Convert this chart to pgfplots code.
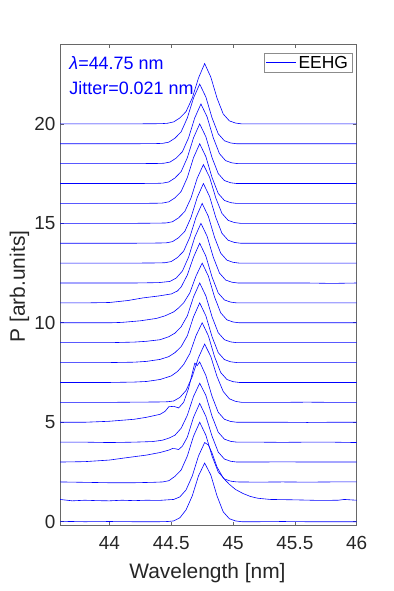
\documentclass[border=0pt]{standalone}
\usepackage{fontspec}
\setmainfont{Liberation Sans}
\usepackage{pgfplots}
\pgfplotsset{compat=1.18}
\definecolor{axgray}{rgb}{0.15,0.15,0.15}
\definecolor{lineblue}{rgb}{0,0,1}
\begin{document}
\begin{tikzpicture}
\useasboundingbox (-60bp,-65.3bp) rectangle (334bp,525.7bp);
\begin{axis}[
  at={(0,0)}, anchor=south west,
  scale only axis, width=296.7bp, height=481.4bp,
  xmin=43.6, xmax=46, ymin=-0.2, ymax=24,
  xtick={44,44.5,45,45.5,46}, ytick={0,5,10,15,20},
  tick align=inside, major tick length=4bp,
  axis line style={draw=axgray!70, line width=0.6bp},
  tick style={draw=axgray!70, line width=0.6bp},
  ticklabel style={font=\fontsize{19}{22}\selectfont, text=axgray},
  /pgf/number format/assume math mode=true,
  xticklabel style={yshift=-7bp},
  yticklabel style={xshift=-1bp},
  xlabel={Wavelength [nm]}, ylabel={P [arb.units]},
  label style={font=\fontsize{21}{24}\selectfont, text=axgray},
  xlabel style={at={(axis description cs:0.497,-0.1093)}, anchor=base},
  ylabel style={at={(axis description cs:-0.118,0.497)}, anchor=base},
  legend style={at={(axis description cs:0.985,0.9826)}, anchor=north east,
    draw=black!45, line width=0.5bp, font=\fontsize{17.5}{20}\selectfont,
    inner xsep=2bp, inner ysep=1bp, legend cell align=left},
  legend image code/.code={\draw[#1] (0bp,0bp) -- (30bp,0bp);},
  cycle list={{lineblue, solid, mark=none, line width=0.6bp}},
  every axis plot post/.append style={color=lineblue, solid, mark=none, line width=0.6bp},
]
% trace 0
\addplot coordinates {(43.6,0.02)(43.8,0.0)(44.0,0.01)(44.2,0.0)(44.4,0.0)(44.47,0.01)(44.52,0.04)(44.57,0.2)(44.62,0.6)(44.67,1.3)(44.72,2.3)(44.77,2.95)(44.82,2.35)(44.87,1.3)(44.92,0.5)(44.97,0.15)(45.02,0.04)(45.07,0.0)(45.2,0.0)(45.4,0.01)(45.6,0.0)(45.8,0.0)(46.0,0.0)};
\addlegendentry{EEHG}
% trace 1
\addplot coordinates {(43.6,1.12)(43.7,1.05)(43.8,1.08)(43.9,1.06)(44.0,1.05)(44.1,1.08)(44.2,1.06)(44.3,1.08)(44.4,1.07)(44.47,1.1)(44.52,1.12)(44.57,1.25)(44.62,1.6)(44.67,2.3)(44.72,3.3)(44.77,3.98)(44.8,3.86)(44.83,3.45)(44.87,2.75)(44.92,2.2)(44.97,1.88)(45.02,1.62)(45.08,1.42)(45.14,1.27)(45.2,1.18)(45.3,1.12)(45.5,1.1)(45.7,1.07)(45.85,1.08)(45.9,1.12)(46.0,1.08)};
% trace 2
\addplot coordinates {(43.6,2.0)(43.8,1.98)(44.0,1.96)(44.2,1.96)(44.35,1.98)(44.43,2.0)(44.48,2.06)(44.53,2.28)(44.58,2.6)(44.63,3.3)(44.68,4.3)(44.73,5.0)(44.78,4.35)(44.83,3.3)(44.88,2.5)(44.93,2.15)(44.98,2.04)(45.03,2.0)(45.2,1.99)(45.4,2.0)(45.6,1.99)(45.8,2.0)(46.0,2.0)};
% trace 3
\addplot coordinates {(43.6,3.0)(43.8,3.02)(44.0,3.1)(44.14,3.22)(44.3,3.35)(44.41,3.48)(44.48,3.6)(44.51,3.68)(44.53,3.67)(44.56,3.63)(44.59,3.8)(44.63,4.25)(44.68,5.25)(44.73,5.95)(44.78,5.3)(44.83,4.3)(44.88,3.5)(44.93,3.15)(44.98,3.04)(45.03,3.0)(45.2,3.0)(45.4,3.01)(45.6,3.0)(45.8,3.0)(46.0,3.0)};
% trace 4
\addplot coordinates {(43.6,4.0)(43.8,4.0)(44.0,3.98)(44.2,4.0)(44.35,4.03)(44.43,4.1)(44.48,4.2)(44.53,4.35)(44.58,4.7)(44.63,5.35)(44.68,6.3)(44.73,6.96)(44.78,6.35)(44.83,5.3)(44.88,4.5)(44.93,4.15)(44.98,4.04)(45.03,4.0)(45.2,4.0)(45.4,3.99)(45.6,4.0)(45.8,4.0)(46.0,3.98)};
% trace 5
\addplot coordinates {(43.6,5.0)(43.8,5.0)(44.0,5.05)(44.2,5.15)(44.3,5.25)(44.41,5.4)(44.45,5.55)(44.48,5.78)(44.52,5.8)(44.56,5.72)(44.6,6.0)(44.64,6.7)(44.69,7.97)(44.71,7.85)(44.73,8.03)(44.78,7.35)(44.83,6.3)(44.88,5.5)(44.93,5.15)(44.98,5.04)(45.03,5.0)(45.2,5.0)(45.4,5.0)(45.6,4.99)(45.8,5.0)(46.0,5.0)};
% trace 6
\addplot coordinates {(43.6,6.0)(43.8,6.0)(44.0,6.0)(44.2,6.01)(44.4,6.02)(44.47,6.03)(44.52,6.07)(44.57,6.25)(44.62,6.6)(44.67,7.3)(44.72,8.25)(44.77,8.93)(44.82,8.3)(44.87,7.3)(44.92,6.55)(44.97,6.18)(45.02,6.05)(45.07,6.0)(45.2,6.0)(45.4,6.0)(45.6,6.01)(45.8,6.0)(46.0,6.0)};
% trace 7
\addplot coordinates {(43.6,7.0)(43.8,7.0)(44.0,7.0)(44.2,7.02)(44.3,7.05)(44.41,7.15)(44.5,7.33)(44.55,7.55)(44.6,7.9)(44.65,8.45)(44.7,9.35)(44.75,10.0)(44.8,9.35)(44.85,8.3)(44.9,7.5)(44.95,7.15)(45.0,7.04)(45.05,7.0)(45.2,7.0)(45.4,7.0)(45.6,7.0)(45.8,7.0)(46.0,7.0)};
% trace 8
\addplot coordinates {(43.6,8.0)(43.8,8.0)(44.0,8.0)(44.2,8.02)(44.3,8.06)(44.41,8.16)(44.48,8.3)(44.53,8.5)(44.58,8.8)(44.63,9.35)(44.68,10.3)(44.73,11.0)(44.78,10.35)(44.83,9.3)(44.88,8.5)(44.93,8.15)(44.98,8.04)(45.03,8.0)(45.2,8.0)(45.4,8.0)(45.6,8.0)(45.8,8.0)(46.0,8.0)};
% trace 9
\addplot coordinates {(43.6,9.0)(43.8,9.0)(44.0,9.0)(44.2,9.03)(44.3,9.07)(44.41,9.15)(44.48,9.3)(44.53,9.48)(44.58,9.8)(44.63,10.35)(44.68,11.3)(44.73,12.0)(44.78,11.35)(44.83,10.3)(44.88,9.5)(44.93,9.15)(44.98,9.04)(45.03,9.0)(45.2,9.0)(45.4,9.0)(45.6,9.0)(45.8,9.0)(46.0,9.0)};
% trace 10
\addplot coordinates {(43.6,10.0)(43.8,10.0)(44.0,10.0)(44.1,10.02)(44.25,10.1)(44.38,10.22)(44.45,10.35)(44.52,10.55)(44.56,10.75)(44.6,11.0)(44.65,11.5)(44.7,12.35)(44.75,13.0)(44.8,12.35)(44.85,11.3)(44.9,10.5)(44.95,10.15)(45.0,10.04)(45.05,10.0)(45.2,10.0)(45.4,10.0)(45.6,10.0)(45.8,10.0)(46.0,10.0)};
% trace 11
\addplot coordinates {(43.6,11.0)(43.8,11.0)(44.0,11.02)(44.15,11.12)(44.27,11.25)(44.4,11.35)(44.5,11.45)(44.55,11.6)(44.58,11.8)(44.63,12.4)(44.68,13.3)(44.73,14.0)(44.78,13.35)(44.83,12.3)(44.88,11.5)(44.93,11.15)(44.98,11.04)(45.03,11.0)(45.2,11.0)(45.4,11.0)(45.6,11.0)(45.8,11.0)(46.0,11.0)};
% trace 12
\addplot coordinates {(43.6,12.0)(43.8,12.0)(44.0,12.0)(44.2,12.0)(44.4,12.02)(44.49,12.08)(44.54,12.25)(44.59,12.6)(44.64,13.3)(44.69,14.3)(44.74,15.0)(44.79,14.35)(44.84,13.3)(44.89,12.5)(44.94,12.15)(44.99,12.04)(45.04,12.0)(45.2,12.0)(45.4,12.0)(45.6,12.0)(45.8,11.98)(46.0,12.0)};
% trace 13
\addplot coordinates {(43.6,13.0)(43.8,13.0)(44.0,13.0)(44.2,13.0)(44.4,13.01)(44.45,13.02)(44.5,13.08)(44.55,13.28)(44.6,13.6)(44.65,14.3)(44.7,15.3)(44.75,16.0)(44.8,15.35)(44.85,14.3)(44.9,13.5)(44.95,13.15)(45.0,13.04)(45.05,13.0)(45.2,13.0)(45.4,13.0)(45.6,13.0)(45.8,13.0)(46.0,13.0)};
% trace 14
\addplot coordinates {(43.6,14.0)(43.8,14.0)(44.0,14.0)(44.2,14.0)(44.4,14.01)(44.46,14.02)(44.51,14.08)(44.56,14.28)(44.61,14.6)(44.66,15.3)(44.71,16.3)(44.76,17.0)(44.81,16.35)(44.86,15.3)(44.91,14.5)(44.96,14.15)(45.01,14.04)(45.06,14.0)(45.2,14.0)(45.4,14.0)(45.6,14.0)(45.8,14.0)(46.0,14.0)};
% trace 15
\addplot coordinates {(43.6,15.0)(43.8,15.0)(44.0,15.0)(44.2,15.0)(44.4,15.01)(44.46,15.02)(44.51,15.08)(44.56,15.28)(44.61,15.6)(44.66,16.28)(44.71,17.27)(44.76,17.95)(44.81,17.32)(44.86,16.28)(44.91,15.5)(44.96,15.15)(45.01,15.04)(45.06,15.0)(45.2,15.0)(45.4,15.0)(45.6,15.0)(45.8,15.0)(46.0,15.0)};
% trace 16
\addplot coordinates {(43.6,16.0)(43.8,16.0)(44.0,16.0)(44.2,16.0)(44.38,16.01)(44.43,16.02)(44.48,16.08)(44.53,16.28)(44.58,16.6)(44.63,17.3)(44.68,18.3)(44.73,19.0)(44.78,18.35)(44.83,17.3)(44.88,16.5)(44.93,16.15)(44.98,16.04)(45.03,16.0)(45.2,16.0)(45.4,16.0)(45.6,16.0)(45.8,16.0)(46.0,16.0)};
% trace 17
\addplot coordinates {(43.6,17.0)(43.8,17.0)(44.0,17.0)(44.2,17.0)(44.38,17.01)(44.43,17.02)(44.48,17.08)(44.53,17.28)(44.58,17.6)(44.63,18.3)(44.68,19.3)(44.73,20.0)(44.78,19.35)(44.83,18.3)(44.88,17.5)(44.93,17.15)(44.98,17.04)(45.03,17.0)(45.2,17.0)(45.4,17.0)(45.6,17.0)(45.8,17.0)(46.0,17.0)};
% trace 18
\addplot coordinates {(43.6,18.0)(43.8,18.0)(44.0,18.0)(44.2,18.0)(44.39,18.01)(44.44,18.02)(44.49,18.08)(44.54,18.28)(44.59,18.6)(44.64,19.3)(44.69,20.3)(44.74,21.0)(44.79,20.35)(44.84,19.3)(44.89,18.5)(44.94,18.15)(44.99,18.04)(45.04,18.0)(45.2,18.0)(45.4,18.0)(45.6,18.0)(45.8,18.0)(46.0,18.0)};
% trace 19
\addplot coordinates {(43.6,19.0)(43.8,19.0)(44.0,19.0)(44.2,19.0)(44.38,19.01)(44.43,19.02)(44.48,19.08)(44.53,19.28)(44.58,19.6)(44.63,20.3)(44.68,21.3)(44.73,22.0)(44.78,21.35)(44.83,20.3)(44.88,19.5)(44.93,19.15)(44.98,19.04)(45.03,19.0)(45.2,19.0)(45.4,19.0)(45.6,19.0)(45.8,19.0)(46.0,19.0)};
% trace 20
\addplot coordinates {(43.6,20.0)(43.8,20.0)(44.0,20.0)(44.2,20.0)(44.42,20.01)(44.47,20.03)(44.52,20.1)(44.57,20.3)(44.62,20.62)(44.67,21.3)(44.72,22.3)(44.77,23.03)(44.82,22.35)(44.87,21.3)(44.92,20.5)(44.97,20.15)(45.02,20.04)(45.07,20.0)(45.2,20.0)(45.4,20.0)(45.6,20.0)(45.8,20.0)(46.0,20.0)};
\node[anchor=base west, text=lineblue, font=\fontsize{18}{21}\selectfont] at (axis description cs:0.02,0.948) {{\itshape λ}=44.75 nm};
\node[anchor=base west, text=lineblue, font=\fontsize{18}{21}\selectfont] at (axis description cs:0.02,0.8947) {Jitter=0.021 nm};
\end{axis}
\end{tikzpicture}
\end{document}
